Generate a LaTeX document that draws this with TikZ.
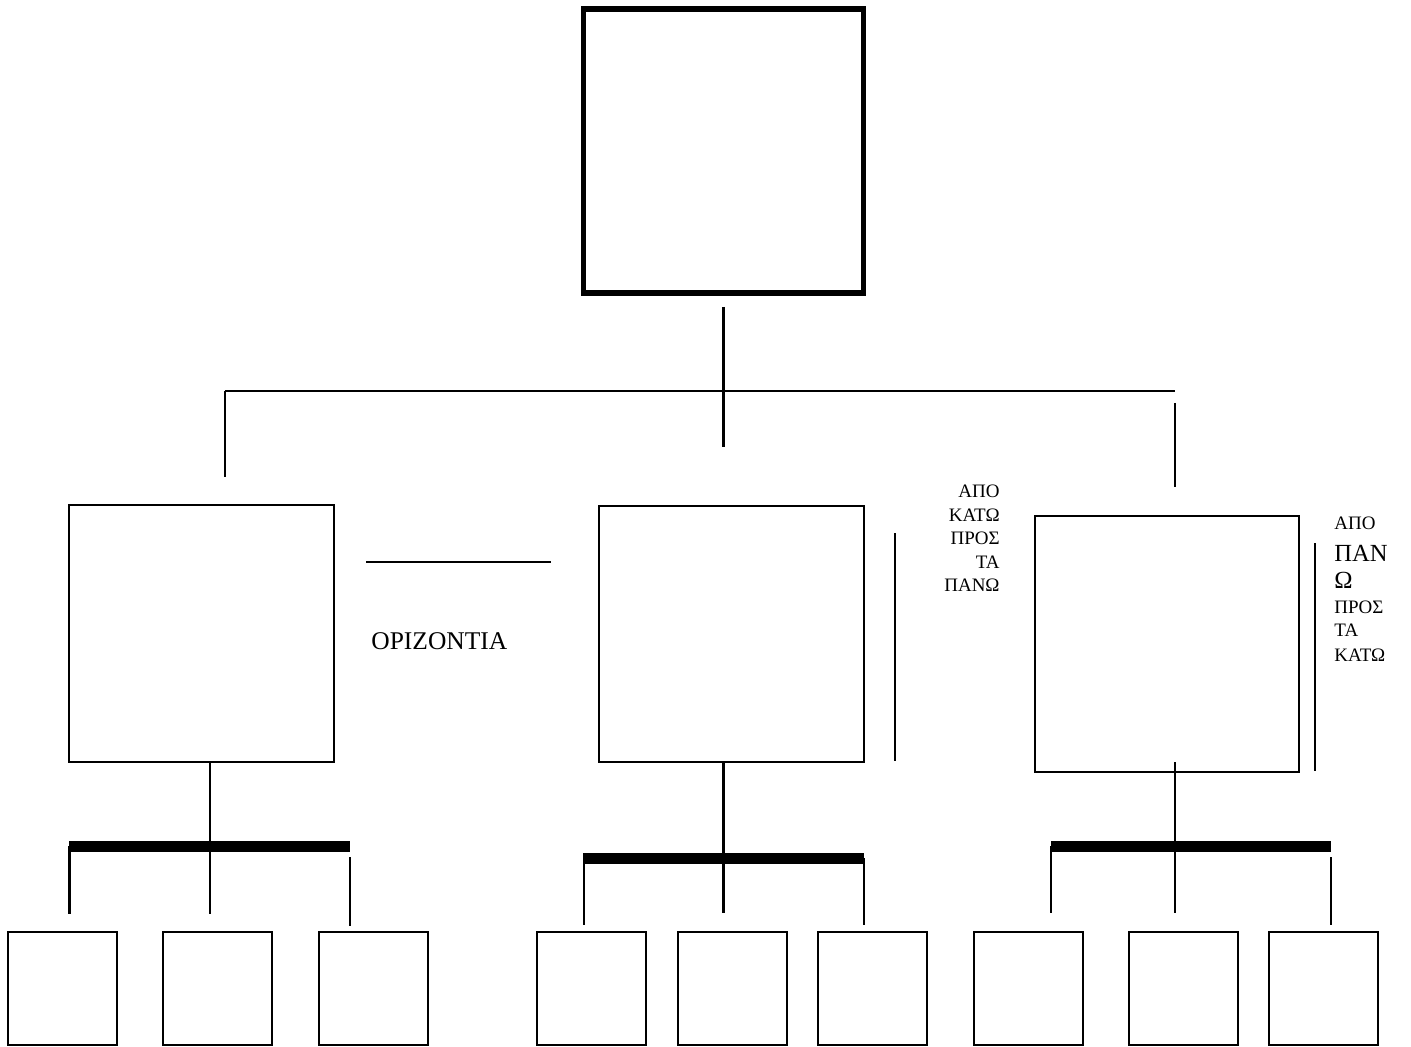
\documentclass[tikz,border=0pt]{standalone}
\usepackage{fontspec}
\setmainfont{Liberation Serif}
\begin{document}
\begin{tikzpicture}[x=0.5pt,y=-0.5pt,
  box/.style={draw,line width=1pt,inner sep=0pt,outer sep=0pt},
  topbox/.style={box,line width=2.75pt},
  link/.style={line width=1.1pt},
  thickbar/.style={line width=5.5pt,line cap=butt},
  small/.style={inner sep=0pt,font=\fontsize{9.5}{10}\selectfont},
  big/.style={inner sep=0pt,font=\fontsize{12.3}{13}\selectfont},
  label/.style={inner sep=0pt,font=\fontsize{12.75}{14}\selectfont}]
\useasboundingbox (0,0) rectangle (1411,1047);

% top box
\node[topbox,minimum width=140pt,minimum height=142pt] (top) at (723.5,151) {};

% middle row of boxes
\node[box,minimum width=132.5pt,minimum height=128.5pt] (mL) at (201.5,633.5) {};
\node[box,minimum width=132.5pt,minimum height=128pt] (mC) at (731.5,633.5) {};
\node[box,minimum width=132pt,minimum height=128pt] (mR) at (1167,644) {};

% bottom row of boxes
\foreach \n/\cx in {bL1/62,bL2/217,bL3/373,bC1/591.5,bC2/732,bC3/872,bR1/1028,bR2/1183,bR3/1323}
  \node[box,minimum width=54.5pt,minimum height=56.5pt] (\n) at (\cx,988.5) {};

% connector end points
\coordinate (t1) at (723.5,307);
\coordinate (t2) at (723.5,447);
\coordinate (hl) at (225,391);
\coordinate (hr) at (1175,391);
\coordinate (dl) at (225,477);
\coordinate (dr1) at (1175,403);
\coordinate (dr2) at (1175,487);
\coordinate (o1) at (366,562);
\coordinate (o2) at (551,562);
\coordinate (s1a) at (895,533);
\coordinate (s1b) at (895,761);
\coordinate (s2a) at (1315,543);
\coordinate (s2b) at (1315,771);

% upper connectors
\draw[link] (t1) -- (t2);
\draw[link] (hl) -- (hr);
\draw[link] (hl) -- (dl);
\draw[link] (dr1) -- (dr2);
\draw[link] (o1) -- (o2);
\draw[link] (s1a) -- (s1b);
\draw[link] (s2a) -- (s2b);

% left group
\coordinate (lv) at (210,846.5);
\coordinate (lb1) at (69,846.5);
\coordinate (lb2) at (350,846.5);
\draw[link] (mL.south -| lv) -- (lv);
\draw[thickbar] (lb1) -- (lb2);
\draw[link] (69.5,846) coordinate (la) -- (69.5,914) coordinate (la2);
\draw[link] (lv) -- (210,914) coordinate (lm2);
\draw[link] (350,857) coordinate (lc) -- (350,926) coordinate (lc2);

% centre group
\coordinate (cv) at (723.5,858);
\coordinate (cb1) at (583,858);
\coordinate (cb2) at (864,858);
\draw[link] (723.5,761) coordinate (cv0) -- (cv);
\draw[thickbar] (cb1) -- (cb2);
\draw[link] (584,858) coordinate (ca) -- (584,925) coordinate (ca2);
\draw[link] (cv) -- (723.5,913) coordinate (cm2);
\draw[link] (864,858) coordinate (cc) -- (864,925) coordinate (cc2);

% right group
\coordinate (rv) at (1175,846);
\coordinate (rb1) at (1051,846);
\coordinate (rb2) at (1331,846);
\draw[link] (1175,762) coordinate (rv0) -- (rv);
\draw[thickbar] (rb1) -- (rb2);
\draw[link] (1051,846) coordinate (ra) -- (1051,913) coordinate (ra2);
\draw[link] (rv) -- (1175,913) coordinate (rm2);
\draw[link] (1331,857) coordinate (rc) -- (1331,925) coordinate (rc2);

% labels
\node[label,anchor=base west] (horiz) at (371,649) {ΟΡΙΖΟΝΤΙΑ};

\node[small,anchor=base east] (u1) at (1000,497) {ΑΠΟ};
\node[small,anchor=base east] (u2) at (1000,521) {ΚΑΤΩ};
\node[small,anchor=base east] (u3) at (1000,544) {ΠΡΟΣ};
\node[small,anchor=base east] (u4) at (1000,568) {ΤΑ};
\node[small,anchor=base east] (u5) at (1000,591) {ΠΑΝΩ};

\node[small,anchor=base west] (d1) at (1334,529) {ΑΠΟ};
\node[big,anchor=base west] (d2) at (1334,561) {ΠΑΝ};
\node[big,anchor=base west] (d3) at (1334,588) {Ω};
\node[small,anchor=base west] (d4) at (1334,613) {ΠΡΟΣ};
\node[small,anchor=base west] (d5) at (1334,636) {ΤΑ};
\node[small,anchor=base west] (d6) at (1334,661) {ΚΑΤΩ};
\end{tikzpicture}
\end{document}
